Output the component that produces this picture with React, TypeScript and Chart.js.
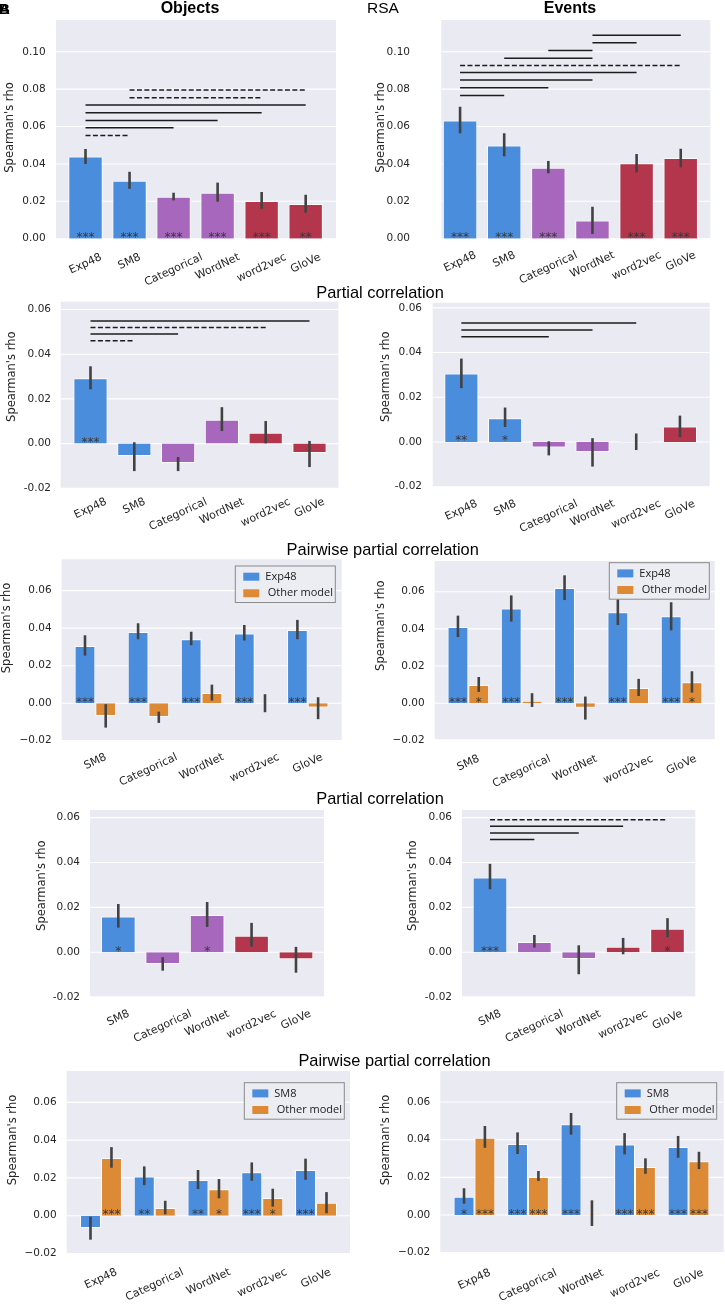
import React, { useEffect, useRef } from 'react';
import { Chart, registerables } from 'chart.js';

Chart.register(...registerables);

const W = 725;
const H = 1306;

const BLUE = '#4a8ddd';
const PURPLE = '#a667bd';
const RED = '#b3364d';
const ORANGE = '#dc8a36';
const BG = '#eaeaf2';
const TEXT = '#262626';
const ERR = '#424242';
const LINE = '#1c1c1c';

// ---------- Categories ----------
const cats6 = ['Exp48', 'SM8', 'Categorical', 'WordNet', 'word2vec', 'GloVe'];
const catsNoExp = ['SM8', 'Categorical', 'WordNet', 'word2vec', 'GloVe'];
const catsNoSM8 = ['Exp48', 'Categorical', 'WordNet', 'word2vec', 'GloVe'];
const colors6 = [BLUE, BLUE, PURPLE, PURPLE, RED, RED];
const colors5 = [BLUE, PURPLE, PURPLE, RED, RED];

// ---------- Tick labels ----------
const ticksRsa = [0, 0.02, 0.04, 0.06, 0.08, 0.1];
const tickLabelsRsa = ['0.00', '0.02', '0.04', '0.06', '0.08', '0.10'];
const ticksPartial = [-0.02, 0, 0.02, 0.04, 0.06];
const tickLabelsPartial = ['-0.02', '0.00', '0.02', '0.04', '0.06'];
const tickLabelsPairwise = ['\u22120.02', '0.00', '0.02', '0.04', '0.06'];

// ---------- RSA: Objects ----------
const rsaObjValues = [0.044, 0.031, 0.0225, 0.0246, 0.0202, 0.0186];
const rsaObjLow = [0.040, 0.0267, 0.0205, 0.0198, 0.016, 0.0139];
const rsaObjHigh = [0.048, 0.0358, 0.0246, 0.030, 0.025, 0.0235];
const rsaObjStars = ['***', '***', '***', '***', '***', '**'];
// [from category, to category, rho level, dashed]
const rsaObjBrackets: [number, number, number, boolean][] = [
  [1, 5, 0.0795, true], [1, 4, 0.0754, true], [0, 5, 0.0715, false], [0, 4, 0.0674, false],
  [0, 3, 0.0633, false], [0, 2, 0.0594, false], [0, 1, 0.0552, true],
];

// ---------- RSA: Events ----------
const rsaEvtValues = [0.0633, 0.0499, 0.038, 0.0098, 0.0403, 0.0432];
const rsaEvtLow = [0.0564, 0.0441, 0.035, 0.0025, 0.0355, 0.0382];
const rsaEvtHigh = [0.0706, 0.0564, 0.0416, 0.0171, 0.0453, 0.0481];
const rsaEvtStars = ['***', '***', '***', '', '***', '***'];
const rsaEvtBrackets: [number, number, number, boolean][] = [
  [3, 5, 0.1089, false], [3, 4, 0.1048, false], [2, 3, 0.1007, false], [1, 3, 0.0966, false],
  [0, 5, 0.0927, true], [0, 4, 0.0889, false], [0, 3, 0.0849, false], [0, 2, 0.0807, false],
  [0, 1, 0.0766, false],
];

// ---------- Partial correlation: Objects ----------
const partObjValues = [0.0292, -0.0055, -0.0087, 0.0107, 0.0049, -0.0042];
const partObjLow = [0.0243, -0.0123, -0.0123, 0.0056, 0.0001, -0.0105];
const partObjHigh = [0.0346, 0.0006, -0.006, 0.0163, 0.0101, 0.0012];
const partObjStars = ['***', '', '', '', '', ''];
const partObjBrackets: [number, number, number, boolean][] = [
  [0, 5, 0.0549, false], [0, 4, 0.0519, true], [0, 2, 0.049, false], [0, 1, 0.046, true],
];

// ---------- Partial correlation: Events ----------
const partEvtValues = [0.0306, 0.0106, -0.0025, -0.0045, 0.0001, 0.0069];
const partEvtLow = [0.0241, 0.0067, -0.006, -0.011, -0.0036, 0.0022];
const partEvtHigh = [0.0373, 0.0154, 0.0003, 0.0017, 0.0038, 0.0118];
const partEvtStars = ['**', '*', '', '', '', ''];
const partEvtBrackets: [number, number, number, boolean][] = [
  [0, 4, 0.0532, false], [0, 3, 0.0501, false], [0, 2, 0.0471, false],
];

// ---------- Pairwise (Exp48 vs other): Objects ----------
const pwObjExpValues = [0.0305, 0.038, 0.0341, 0.0371, 0.039];
const pwObjExpLow = [0.0254, 0.0341, 0.0309, 0.0334, 0.0341];
const pwObjExpHigh = [0.0362, 0.0426, 0.0381, 0.0417, 0.0444];
const pwObjExpStars = ['***', '***', '***', '***', '***'];
const pwObjOthValues = [-0.0068, -0.0073, 0.0055, -0.0001, -0.0023];
const pwObjOthLow = [-0.013, -0.0105, 0.0014, -0.0048, -0.0085];
const pwObjOthHigh = [-0.0005, -0.0045, 0.0099, 0.0048, 0.0032];
const pwObjOthStars = ['', '', '', '', ''];

// ---------- Pairwise (Exp48 vs other): Events ----------
const pwEvtExpValues = [0.041, 0.0509, 0.062, 0.0489, 0.0468];
const pwEvtExpLow = [0.0356, 0.0439, 0.0555, 0.0421, 0.0392];
const pwEvtExpHigh = [0.0471, 0.058, 0.0688, 0.056, 0.0543];
const pwEvtExpStars = ['***', '***', '***', '***', '***'];
const pwEvtOthValues = [0.0098, 0.0014, -0.0024, 0.0082, 0.0113];
const pwEvtOthLow = [0.0061, -0.002, -0.0088, 0.0039, 0.0057];
const pwEvtOthHigh = [0.0141, 0.0054, 0.0036, 0.0131, 0.0172];
const pwEvtOthStars = ['*', '', '', '', '*'];

// ---------- Partial correlation (no Exp48): Objects ----------
const part2ObjValues = [0.0159, -0.0052, 0.0166, 0.0074, -0.0031];
const part2ObjLow = [0.011, -0.0082, 0.0113, 0.0025, -0.0091];
const part2ObjHigh = [0.0215, -0.0022, 0.0224, 0.0131, 0.0024];
const part2ObjStars = ['*', '', '*', '', ''];

// ---------- Partial correlation (no Exp48): Events ----------
const part2EvtValues = [0.0333, 0.0046, -0.003, 0.0025, 0.0105];
const part2EvtLow = [0.0281, 0.0021, -0.0098, -0.0009, 0.0067];
const part2EvtHigh = [0.0394, 0.0077, 0.0031, 0.0064, 0.0152];
const part2EvtStars = ['***', '', '', '', '*'];
const part2EvtBrackets: [number, number, number, boolean][] = [
  [0, 4, 0.0591, true], [0, 3, 0.0562, false], [0, 2, 0.0532, false], [0, 1, 0.0502, false],
];

// ---------- Pairwise (SM8 vs other): Objects ----------
const pw2ObjSmValues = [-0.0065, 0.0208, 0.0189, 0.023, 0.0242];
const pw2ObjSmLow = [-0.0127, 0.0162, 0.0141, 0.0185, 0.019];
const pw2ObjSmHigh = [-0.0005, 0.0261, 0.0242, 0.0282, 0.0302];
const pw2ObjSmStars = ['', '**', '**', '***', '***'];
const pw2ObjOthValues = [0.0305, 0.0041, 0.014, 0.0094, 0.0069];
const pw2ObjOthLow = [0.0254, 0.0007, 0.0092, 0.0048, 0.0013];
const pw2ObjOthHigh = [0.0363, 0.0079, 0.0194, 0.0143, 0.0125];
const pw2ObjOthStars = ['***', '', '*', '*', ''];

// ---------- Pairwise (SM8 vs other): Events ----------
const pw2EvtSmValues = [0.0097, 0.0377, 0.0482, 0.0375, 0.0361];
const pw2EvtSmLow = [0.006, 0.0324, 0.0427, 0.0322, 0.0304];
const pw2EvtSmHigh = [0.0142, 0.0439, 0.0542, 0.0435, 0.042];
const pw2EvtSmStars = ['*', '***', '***', '***', '***'];
const pw2EvtOthValues = [0.041, 0.0202, 0.0003, 0.0255, 0.0285];
const pw2EvtOthLow = [0.0357, 0.0181, -0.0058, 0.0219, 0.0244];
const pw2EvtOthHigh = [0.0473, 0.0234, 0.0078, 0.0301, 0.0336];
const pw2EvtOthStars = ['***', '***', '', '***', '***'];

// ---------- Types & panel assembly ----------
interface Series {
  name: string;
  values: number[];
  low: number[];
  high: number[];
  stars: string[];
  colors: string | string[];
}
interface Geo {
  catL: number; catR: number; bgL: number; bgR: number; top: number; bot: number;
  tickR: number; ylx: number; yly: number; gap: number;
}
interface Panel {
  labels: string[];
  series: Series[];
  yMin: number;
  yMax: number;
  ticks: number[];
  tickLabels: string[];
  brackets: [number, number, number, boolean][];
  legend?: { x: number; y: number };
  geo: Geo;
}

const PANELS: Panel[] = [
  {
    labels: cats6,
    series: [{ name: 'RSA', values: rsaObjValues, low: rsaObjLow, high: rsaObjHigh, stars: rsaObjStars, colors: colors6 }],
    yMin: 0, yMax: 0.117, ticks: ticksRsa, tickLabels: tickLabelsRsa, brackets: rsaObjBrackets,
    geo: { catL: 63.5, catR: 327.7, bgL: 56, bgR: 336, top: 20, bot: 238.7, tickR: 45.7, ylx: 10, yly: 127.5, gap: 13 },
  },
  {
    labels: cats6,
    series: [{ name: 'RSA', values: rsaEvtValues, low: rsaEvtLow, high: rsaEvtHigh, stars: rsaEvtStars, colors: colors6 }],
    yMin: 0, yMax: 0.117, ticks: ticksRsa, tickLabels: tickLabelsRsa, brackets: rsaEvtBrackets,
    geo: { catL: 438, catR: 702.8, bgL: 441.3, bgR: 710.3, top: 20, bot: 238.7, tickR: 410, ylx: 381.5, yly: 127.5, gap: 11 },
  },
  {
    labels: cats6,
    series: [{ name: 'Partial', values: partObjValues, low: partObjLow, high: partObjHigh, stars: partObjStars, colors: colors6 }],
    yMin: -0.02, yMax: 0.0635, ticks: ticksPartial, tickLabels: tickLabelsPartial, brackets: partObjBrackets,
    geo: { catL: 68.6, catR: 331.4, bgL: 60.7, bgR: 338.3, top: 301.7, bot: 488.3, tickR: 51, ylx: 11.7, yly: 376.7, gap: 8 },
  },
  {
    labels: cats6,
    series: [{ name: 'Partial', values: partEvtValues, low: partEvtLow, high: partEvtHigh, stars: partEvtStars, colors: colors6 }],
    yMin: -0.02, yMax: 0.0623, ticks: ticksPartial, tickLabels: tickLabelsPartial, brackets: partEvtBrackets,
    geo: { catL: 439.5, catR: 701.8, bgL: 432.7, bgR: 709.7, top: 302.7, bot: 486.7, tickR: 422, ylx: 386, yly: 376.7, gap: 11.5 },
  },
  {
    labels: catsNoExp,
    series: [
      { name: 'Exp48', values: pwObjExpValues, low: pwObjExpLow, high: pwObjExpHigh, stars: pwObjExpStars, colors: BLUE },
      { name: 'Other model', values: pwObjOthValues, low: pwObjOthLow, high: pwObjOthHigh, stars: pwObjOthStars, colors: ORANGE },
    ],
    yMin: -0.0196, yMax: 0.0767, ticks: ticksPartial, tickLabels: tickLabelsPairwise, brackets: [],
    legend: { x: 235.3, y: 566 },
    geo: { catL: 68.8, catR: 334.3, bgL: 61.7, bgR: 341.7, top: 559.3, bot: 740, tickR: 51.7, ylx: 7.3, yly: 628, gap: 11.7 },
  },
  {
    labels: catsNoExp,
    series: [
      { name: 'Exp48', values: pwEvtExpValues, low: pwEvtExpLow, high: pwEvtExpHigh, stars: pwEvtExpStars, colors: BLUE },
      { name: 'Other model', values: pwEvtOthValues, low: pwEvtOthLow, high: pwEvtOthHigh, stars: pwEvtOthStars, colors: ORANGE },
    ],
    yMin: -0.0194, yMax: 0.0765, ticks: ticksPartial, tickLabels: tickLabelsPairwise, brackets: [],
    legend: { x: 609.3, y: 562.7 },
    geo: { catL: 441.7, catR: 708.2, bgL: 434.7, bgR: 714.7, top: 561, bot: 739.3, tickR: 424.7, ylx: 381, yly: 625.7, gap: 14 },
  },
  {
    labels: catsNoExp,
    series: [{ name: 'Partial', values: part2ObjValues, low: part2ObjLow, high: part2ObjHigh, stars: part2ObjStars, colors: colors5 }],
    yMin: -0.0198, yMax: 0.0634, ticks: ticksPartial, tickLabels: tickLabelsPartial, brackets: [],
    geo: { catL: 96.1, catR: 318.2, bgL: 90, bgR: 324, top: 810, bot: 996.7, tickR: 80, ylx: 41.7, yly: 885.7, gap: 11.6 },
  },
  {
    labels: catsNoExp,
    series: [{ name: 'Partial', values: part2EvtValues, low: part2EvtLow, high: part2EvtHigh, stars: part2EvtStars, colors: colors5 }],
    yMin: -0.0198, yMax: 0.0634, ticks: ticksPartial, tickLabels: tickLabelsPartial, brackets: part2EvtBrackets,
    geo: { catL: 467.8, catR: 689.7, bgL: 462, bgR: 695.3, top: 810, bot: 996.7, tickR: 452, ylx: 412.7, yly: 885.7, gap: 11.6 },
  },
  {
    labels: catsNoSM8,
    series: [
      { name: 'SM8', values: pw2ObjSmValues, low: pw2ObjSmLow, high: pw2ObjSmHigh, stars: pw2ObjSmStars, colors: BLUE },
      { name: 'Other model', values: pw2ObjOthValues, low: pw2ObjOthLow, high: pw2ObjOthHigh, stars: pw2ObjOthStars, colors: ORANGE },
    ],
    yMin: -0.0199, yMax: 0.0766, ticks: ticksPartial, tickLabels: tickLabelsPairwise, brackets: [],
    legend: { x: 244.3, y: 1082.7 },
    geo: { catL: 74.1, catR: 342.9, bgL: 66.7, bgR: 350, top: 1071, bot: 1253.3, tickR: 56.7, ylx: 13.3, yly: 1140, gap: 13.4 },
  },
  {
    labels: catsNoSM8,
    series: [
      { name: 'SM8', values: pw2EvtSmValues, low: pw2EvtSmLow, high: pw2EvtSmHigh, stars: pw2EvtSmStars, colors: BLUE },
      { name: 'Other model', values: pw2EvtOthValues, low: pw2EvtOthLow, high: pw2EvtOthHigh, stars: pw2EvtOthStars, colors: ORANGE },
    ],
    yMin: -0.0198, yMax: 0.0765, ticks: ticksPartial, tickLabels: tickLabelsPairwise, brackets: [],
    legend: { x: 616.7, y: 1082.7 },
    geo: { catL: 447.7, catR: 715.3, bgL: 440.3, bgR: 723.7, top: 1071, bot: 1252.3, tickR: 430.3, ylx: 386, yly: 1140, gap: 15 },
  },
];

const ROT = (25 * Math.PI) / 180;

function decorPlugin(p: Panel) {
  const g = p.geo;
  return {
    id: 'panelDecor',
    beforeDatasetsDraw(chart: any) {
      const ctx = chart.ctx as CanvasRenderingContext2D;
      const y = chart.scales.y;
      ctx.save();
      ctx.fillStyle = BG;
      ctx.fillRect(g.bgL, g.top, g.bgR - g.bgL, g.bot - g.top);
      ctx.strokeStyle = '#ffffff';
      ctx.lineWidth = 1.1;
      p.ticks.forEach((v) => {
        const py = y.getPixelForValue(v);
        ctx.beginPath();
        ctx.moveTo(g.bgL, py);
        ctx.lineTo(g.bgR, py);
        ctx.stroke();
      });
      ctx.restore();
    },
    afterDatasetsDraw(chart: any) {
      const ctx = chart.ctx as CanvasRenderingContext2D;
      const x = chart.scales.x;
      const y = chart.scales.y;
      const y0 = y.getPixelForValue(0);
      ctx.save();

      // error bars + stars
      p.series.forEach((s, d) => {
        const meta = chart.getDatasetMeta(d);
        meta.data.forEach((bar: any, i: number) => {
          const bx = bar.x;
          ctx.strokeStyle = ERR;
          ctx.lineWidth = 2.6;
          ctx.beginPath();
          ctx.moveTo(bx, y.getPixelForValue(s.low[i]));
          ctx.lineTo(bx, y.getPixelForValue(s.high[i]));
          ctx.stroke();
          if (s.stars[i]) {
            ctx.fillStyle = '#383838';
            ctx.font = "12px 'DejaVu Sans'";
            ctx.textAlign = 'center';
            ctx.textBaseline = 'alphabetic';
            ctx.fillText(s.stars[i], bx, y0 + 2.5);
          }
        });
      });

      // significance brackets
      ctx.strokeStyle = LINE;
      ctx.lineWidth = 1.5;
      p.brackets.forEach(([a, b, v, dashed]) => {
        const py = y.getPixelForValue(v);
        ctx.setLineDash(dashed ? [5, 2.4] : []);
        ctx.beginPath();
        ctx.moveTo(x.getPixelForValue(a), py);
        ctx.lineTo(x.getPixelForValue(b), py);
        ctx.stroke();
      });
      ctx.setLineDash([]);

      // y tick labels
      ctx.fillStyle = TEXT;
      ctx.font = "10.5px 'DejaVu Sans'";
      ctx.textAlign = 'right';
      ctx.textBaseline = 'middle';
      p.ticks.forEach((v, i) => {
        ctx.fillText(p.tickLabels[i], g.tickR, y.getPixelForValue(v));
      });

      // y axis title
      ctx.save();
      ctx.translate(g.ylx, g.yly);
      ctx.rotate(-Math.PI / 2);
      ctx.font = "11.5px 'DejaVu Sans'";
      ctx.textAlign = 'center';
      ctx.textBaseline = 'middle';
      ctx.fillText("Spearman's rho", 0, 0);
      ctx.restore();

      // x tick labels (rotated, centred under tick)
      ctx.font = "11px 'DejaVu Sans'";
      p.labels.forEach((lab, i) => {
        const cx = x.getPixelForValue(i);
        const w = ctx.measureText(lab).width;
        const bh = w * Math.sin(ROT) + 11 * Math.cos(ROT);
        const cy = g.bot + g.gap + bh / 2;
        ctx.save();
        ctx.translate(cx, cy);
        ctx.rotate(-ROT);
        ctx.textAlign = 'center';
        ctx.textBaseline = 'middle';
        ctx.fillText(lab, 0, 0);
        ctx.restore();
      });

      // legend
      if (p.legend) {
        const L = p.legend;
        const lw = 100;
        const lh = 36.5;
        ctx.fillStyle = 'rgba(236,236,243,0.92)';
        ctx.fillRect(L.x, L.y, lw, lh);
        ctx.strokeStyle = '#8a8a8a';
        ctx.lineWidth = 1;
        ctx.strokeRect(L.x, L.y, lw, lh);
        const rows = [10.7, 27.3];
        p.series.forEach((s, d) => {
          const cy = L.y + rows[d];
          ctx.fillStyle = s.colors as string;
          ctx.fillRect(L.x + 8, cy - 4, 16, 8);
          ctx.fillStyle = '#222222';
          ctx.font = "11px 'Open Sans'";
          ctx.textAlign = 'left';
          ctx.textBaseline = 'middle';
          ctx.fillText(s.name, L.x + (d === 0 ? 30 : 32.5), cy);
        });
      }
      ctx.restore();
    },
  };
}

function buildConfig(p: Panel): any {
  const g = p.geo;
  const grouped = p.series.length > 1;
  return {
    type: 'bar',
    data: {
      labels: p.labels,
      datasets: p.series.map((s) => ({
        label: s.name,
        data: s.values,
        backgroundColor: s.colors,
        borderColor: 'rgba(255,255,255,0.85)',
        borderWidth: 1,
        barPercentage: grouped ? 1 : 0.78,
        categoryPercentage: grouped ? 0.78 : 1,
      })),
    },
    options: {
      responsive: false,
      animation: false,
      devicePixelRatio: 1,
      events: [],
      layout: { padding: { left: g.catL, right: W - g.catR, top: g.top, bottom: H - g.bot } },
      scales: {
        x: { display: false },
        y: { display: false, min: p.yMin, max: p.yMax },
      },
      plugins: {
        legend: { display: false },
        tooltip: { enabled: false },
        title: { display: false },
      },
    },
    plugins: [decorPlugin(p)],
  };
}

const headStyle = (x: number, y: number, size: number, bold: boolean, center = true): React.CSSProperties => ({
  position: 'absolute',
  left: x,
  top: y,
  transform: center ? 'translate(-50%, -50%)' : 'translate(0, -50%)',
  fontFamily: "'Liberation Sans', Arial, sans-serif",
  fontSize: size,
  fontWeight: bold ? 'bold' : 'normal',
  lineHeight: 1,
  whiteSpace: 'nowrap',
  color: '#000',
});

export default function App() {
  const refs = useRef<(HTMLCanvasElement | null)[]>([]);

  useEffect(() => {
    const charts = PANELS.map((p, i) => new Chart(refs.current[i] as HTMLCanvasElement, buildConfig(p)));
    return () => charts.forEach((c) => c.destroy());
  }, []);

  return (
    <div style={{ position: 'absolute', left: 0, top: 0, width: W, height: H, background: '#fff', overflow: 'hidden' }}>
      {PANELS.map((_, i) => (
        <canvas
          key={i}
          ref={(el) => { refs.current[i] = el; }}
          width={W}
          height={H}
          style={{ position: 'absolute', left: 0, top: 0, width: W, height: H }}
        />
      ))}
      <div style={{ ...headStyle(-1, 8, 15, true, false) }}>A</div>
      <div style={{ ...headStyle(-1, 8, 15, true, false) }}>B</div>
      <div style={headStyle(190, 8, 16, true)}>Objects</div>
      <div style={headStyle(367, 8, 15.5, false, false)}>RSA</div>
      <div style={headStyle(570, 8, 16, true)}>Events</div>
      <div style={headStyle(380, 291.5, 16.4, false)}>Partial correlation</div>
      <div style={headStyle(382.7, 549, 16.4, false)}>Pairwise partial correlation</div>
      <div style={headStyle(380, 798.3, 16.4, false)}>Partial correlation</div>
      <div style={headStyle(394.5, 1059.5, 16.4, false)}>Pairwise partial correlation</div>
    </div>
  );
}
